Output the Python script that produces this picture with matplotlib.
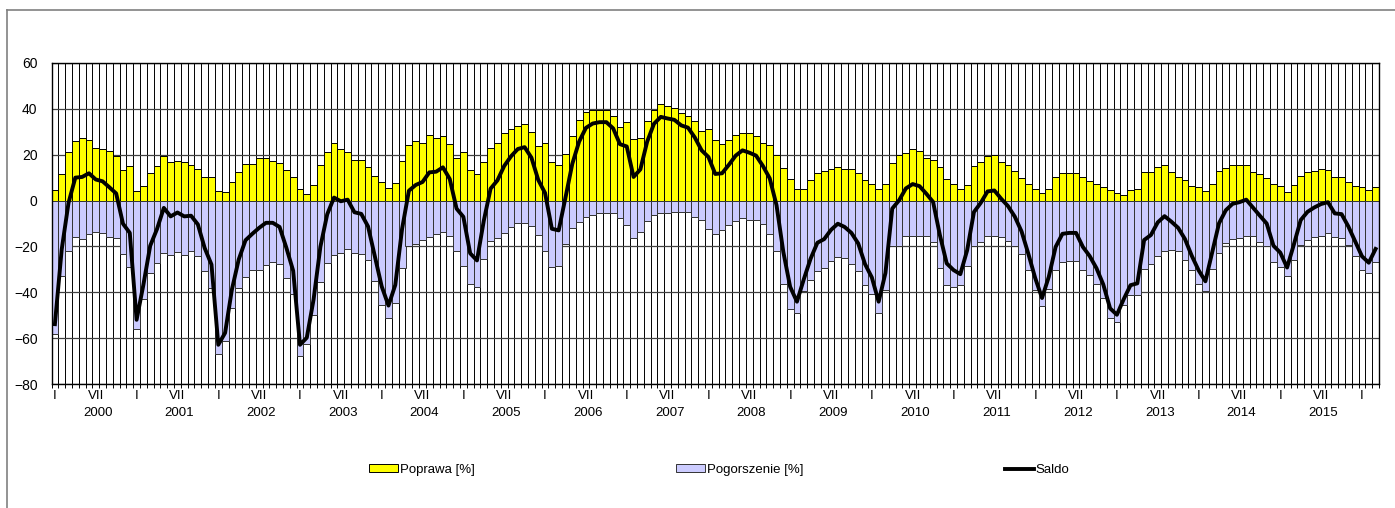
import matplotlib
matplotlib.use("Agg")
import matplotlib.pyplot as plt
import numpy as np
from matplotlib.lines import Line2D

plt.rcParams['font.family'] = ['Liberation Sans', 'DejaVu Sans']

# monthly data, Jan 2000 - Mar 2016
poprawa = [
    4.5, 11.5, 21.0, 26.0, 27.2, 26.5, 23.0, 22.7, 21.8, 19.5, 13.2, 15.0,   # 2000
    4.2, 6.3, 12.0, 15.0, 19.5, 16.7, 17.2, 16.7, 15.4, 13.8, 10.2, 10.2,    # 2001
    4.1, 3.6, 7.9, 12.4, 15.9, 15.9, 18.5, 18.5, 17.2, 16.3, 13.2, 10.2,     # 2002
    4.9, 2.8, 6.8, 15.4, 21.4, 24.9, 22.4, 21.4, 17.7, 17.7, 14.5, 10.9,     # 2003
    8.3, 5.5, 7.8, 17.1, 24.3, 25.8, 25.2, 28.4, 27.1, 28.0, 24.8, 18.4,     # 2004
    21.3, 13.2, 11.4, 16.7, 23.0, 25.2, 29.3, 31.0, 32.5, 33.3, 29.7, 23.9,  # 2005
    25.2, 16.7, 15.4, 20.3, 28.0, 35.0, 38.7, 39.7, 39.7, 39.7, 37.0, 32.0,  # 2006
    34.2, 26.7, 27.5, 34.5, 39.7, 42.0, 41.3, 40.4, 38.0, 37.0, 34.5, 30.3,  # 2007
    31.4, 26.2, 24.8, 26.2, 28.4, 29.3, 29.3, 28.0, 25.2, 24.3, 19.9, 14.0,  # 2008
    9.6, 4.9, 4.9, 9.1, 12.2, 12.8, 13.6, 14.5, 13.6, 13.6, 12.2, 9.0,       # 2009
    7.2, 4.9, 7.2, 16.5, 19.7, 20.7, 22.6, 21.7, 18.4, 17.5, 14.5, 9.6,      # 2010
    7.2, 4.9, 6.8, 15.0, 17.0, 19.5, 19.7, 16.8, 15.3, 13.0, 9.9, 7.1,       # 2011
    5.2, 3.5, 5.2, 10.2, 12.1, 12.1, 12.1, 10.2, 8.4, 7.1, 6.1, 4.4,         # 2012
    3.1, 2.6, 4.4, 5.2, 12.5, 12.5, 14.8, 15.3, 12.5, 10.2, 9.0, 6.3,        # 2013
    5.8, 4.2, 7.1, 12.9, 14.4, 15.3, 15.7, 15.7, 12.5, 11.6, 9.9, 7.1,       # 2014
    6.3, 3.9, 6.7, 10.8, 12.5, 12.9, 13.8, 13.5, 10.3, 10.3, 8.0, 6.3,       # 2015
    5.8, 4.4, 5.8,                                                           # 2016
]

pogorszenie = [
    -58.4, -32.8, -22.0, -16.0, -16.9, -14.6, -13.8, -14.3, -16.0, -16.4, -23.3, -29.1,
    -56.2, -43.0, -31.7, -27.4, -22.7, -23.6, -22.4, -23.6, -22.0, -24.2, -30.9, -38.1,
    -67.0, -61.3, -46.7, -38.1, -33.2, -30.4, -30.4, -28.2, -26.9, -27.8, -33.8, -40.8,
    -67.8, -62.6, -49.9, -35.5, -27.4, -23.6, -22.7, -21.0, -22.8, -23.5, -25.8, -35.2,
    -45.7, -51.3, -44.6, -29.4, -20.0, -19.0, -17.1, -16.1, -14.5, -13.5, -15.4, -21.9,
    -28.4, -36.2, -37.5, -25.5, -17.8, -16.4, -14.2, -11.7, -10.0, -10.0, -11.0, -14.9,
    -21.9, -29.0, -28.4, -19.0, -12.0, -9.3, -7.0, -6.1, -5.5, -5.5, -5.5, -7.4,
    -10.6, -16.4, -13.9, -8.8, -6.2, -5.5, -5.5, -5.2, -5.2, -5.2, -7.0, -8.4,
    -12.4, -14.6, -12.9, -10.6, -8.8, -7.4, -8.4, -8.4, -10.1, -14.6, -21.9, -36.4,
    -47.2, -49.0, -39.3, -34.5, -30.6, -29.6, -26.4, -24.6, -25.1, -27.7, -30.9, -36.7,
    -40.7, -49.0, -38.8, -20.0, -19.6, -15.4, -15.4, -15.4, -15.4, -18.1, -29.6, -37.0,
    -37.5, -37.0, -28.5, -20.0, -18.0, -15.5, -15.3, -16.0, -17.7, -20.0, -23.4, -30.4,
    -39.0, -46.0, -38.4, -30.4, -26.6, -26.2, -26.2, -30.4, -32.6, -36.6, -42.7, -51.4,
    -52.9, -45.6, -41.3, -41.3, -29.7, -27.5, -24.3, -22.1, -21.7, -22.1, -25.8, -30.4,
    -36.2, -39.4, -29.7, -22.8, -18.6, -16.7, -16.4, -15.3, -15.6, -18.2, -19.9, -26.8,
    -29.0, -33.1, -25.8, -19.3, -17.4, -15.9, -15.3, -14.2, -15.9, -16.2, -19.3, -24.1,
    -30.1, -31.5, -26.9,
]

saldo = [
    -53.9, -21.3, -1.0, 10.0, 10.3, 11.9, 9.2, 8.4, 5.8, 3.1, -10.1, -14.1,
    -52.0, -36.7, -19.7, -12.4, -3.2, -6.9, -5.2, -6.9, -6.6, -10.4, -20.7, -27.9,
    -62.9, -57.7, -38.8, -25.7, -17.3, -14.5, -11.9, -9.7, -9.7, -11.5, -20.6, -30.6,
    -62.9, -59.8, -43.1, -20.1, -6.0, 1.3, -0.3, 0.4, -5.1, -5.8, -11.3, -24.3,
    -37.4, -45.8, -36.8, -12.3, 4.3, 6.8, 8.1, 12.3, 12.6, 14.5, 9.4, -3.5,
    -7.1, -23.0, -26.1, -8.8, 5.2, 8.8, 15.1, 19.3, 22.5, 23.3, 18.7, 9.0,
    3.3, -12.3, -13.0, 1.3, 16.0, 25.7, 31.7, 33.6, 34.2, 34.2, 31.5, 24.6,
    23.6, 10.3, 13.6, 25.7, 33.5, 36.5, 35.8, 35.2, 32.8, 31.8, 27.5, 21.9,
    19.0, 11.6, 11.9, 15.6, 19.6, 21.9, 20.9, 19.6, 15.1, 9.7, -2.0, -22.4,
    -37.6, -44.1, -34.4, -25.4, -18.4, -16.8, -12.8, -10.1, -11.5, -14.1, -18.7, -27.7,
    -33.5, -44.1, -31.6, -3.5, 0.1, 5.3, 7.2, 6.3, 3.0, -0.6, -15.1, -27.4,
    -30.3, -32.1, -21.7, -5.0, -1.0, 4.0, 4.4, 0.8, -2.4, -7.0, -13.5, -23.3,
    -33.8, -42.5, -33.2, -20.2, -14.5, -14.1, -14.1, -20.2, -24.2, -29.5, -36.6, -47.0,
    -49.8, -43.0, -36.9, -36.1, -17.2, -15.0, -9.5, -6.8, -9.2, -11.9, -16.8, -24.1,
    -30.4, -35.2, -22.6, -9.9, -4.2, -1.4, -0.7, 0.4, -3.1, -6.6, -10.0, -19.7,
    -22.7, -29.2, -19.1, -8.5, -4.9, -3.0, -1.5, -0.7, -5.6, -5.9, -11.3, -17.8,
    -24.3, -27.1, -21.1,
]

years = list(range(2000, 2016))
month_marks = {0: "I", 6: "VII"}

n = len(poprawa)
x = np.arange(n)

fig = plt.figure(figsize=(13.95, 5.08), dpi=100)
ax = fig.add_axes([51.5 / 1395, 1 - 384 / 508, (1379 - 51.5) / 1395, 321 / 508])

b1 = ax.bar(x, poprawa, width=1.0, color="#FFFF00", edgecolor="black", linewidth=0.7,
            label="Poprawa [%]", zorder=2)
b2 = ax.bar(x, pogorszenie, width=1.0, color="#CCCCFF", edgecolor="#333333", linewidth=0.7,
            label="Pogorszenie [%]", zorder=2)
l1, = ax.plot(x, saldo, color="black", linewidth=2.8, label="Saldo", zorder=3)

ax.set_xlim(-0.5, n - 0.5)
ax.set_ylim(-80, 60)
ax.set_yticks(range(-80, 61, 20))
ax.set_xticks(np.arange(-0.5, n, 1))
ax.set_axisbelow(True)
ax.grid(axis="x", color="black", linewidth=0.7)
ax.grid(axis="y", color="#404040", linewidth=0.9)
ax.tick_params(axis="x", direction="inout", length=6, width=0.7, labelbottom=False)
ax.tick_params(axis="y", length=0, pad=10, labelsize=10)
for s in ax.spines.values():
    s.set_linewidth(1.0)

# month marks and year labels under the axis
tr = ax.get_xaxis_transform()
for i in range(n):
    m = i % 12
    if m in month_marks:
        ax.text(i, -0.038, month_marks[m], transform=tr, ha="center", va="center", fontsize=9.5)
for k, yr in enumerate(years):
    ax.text(k * 12 + 6.3, -0.09, str(yr), transform=tr, ha="center", va="center", fontsize=9.5)

# outer frame (left and top edges)
fig.add_artist(Line2D([7 / 1395, 7 / 1395], [0, 1 - 9.5 / 508], transform=fig.transFigure,
                      color="#808080", linewidth=1.2))
fig.add_artist(Line2D([7 / 1395, 1], [1 - 9.5 / 508, 1 - 9.5 / 508], transform=fig.transFigure,
                      color="#808080", linewidth=1.2))

fig.legend(handles=[b1, b2, l1], loc="center", bbox_to_anchor=(0.5155, 0.075), ncol=3,
           frameon=False, fontsize=9.5, columnspacing=15.3, handlelength=2.2,
           handletextpad=0.1, handleheight=0.5)

fig.savefig("out.png", dpi=100)
